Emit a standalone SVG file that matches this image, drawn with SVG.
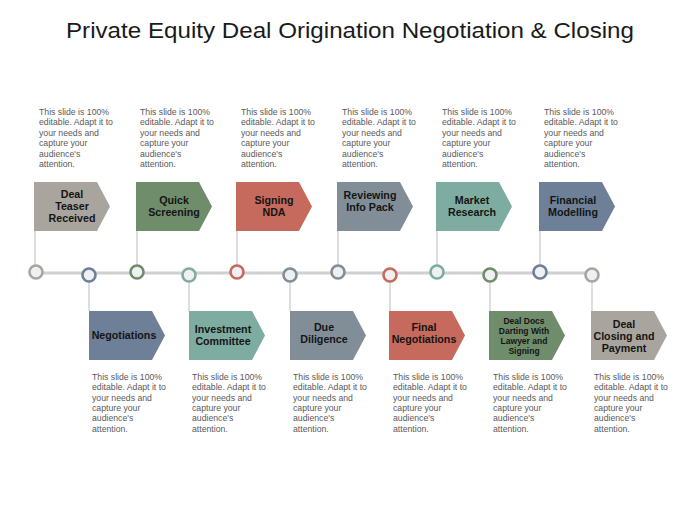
<svg xmlns="http://www.w3.org/2000/svg" width="700" height="525" viewBox="0 0 700 525">
<style>
.title{font-family:"Liberation Sans",Arial,sans-serif;font-size:22px;fill:#1a1a1a}
.lbl{font-family:"Liberation Sans",Arial,sans-serif;font-size:10.7px;font-weight:bold;fill:#141414;text-anchor:middle}
.lbl.sm{font-size:8.5px}
.desc{font-family:"Liberation Sans",Arial,sans-serif;font-size:8.7px;fill:#5a5a5a}
.vl{stroke:#c8c8c8;stroke-width:1.2;fill:none}
.tl{stroke:#d0d0d0;stroke-width:3;fill:none}
.dot{fill:#eef0f2;stroke-width:2.6}
.gray{fill:#a9a59e}.green{fill:#6f8c6b}.red{fill:#c56a5c}.gblue{fill:#818e98}.teal{fill:#7eaca0}.slate{fill:#6e7f98}
.s-gray{stroke:#a9a59e}.s-green{stroke:#6f8c6b}.s-red{stroke:#c56a5c}.s-gblue{stroke:#818e98}.s-teal{stroke:#7eaca0}.s-slate{stroke:#6e7f98}
</style>
<defs>
<path id="arrow" d="M0,0 H63 L76,24.5 L63,49 H0 Z"/>
</defs>
<rect width="700" height="525" fill="#ffffff"/>
<text class="title" x="350" y="38" text-anchor="middle" textLength="568" lengthAdjust="spacingAndGlyphs">Private Equity Deal Origination Negotiation &amp; Closing</text>

<g id="connectors">
<line class="tl" x1="36" y1="273" x2="593" y2="273"/>
<line class="vl" x1="35" y1="230" x2="35" y2="265"/>
<line class="vl" x1="137" y1="230" x2="137" y2="265"/>
<line class="vl" x1="237" y1="230" x2="237" y2="265"/>
<line class="vl" x1="338" y1="230" x2="338" y2="265"/>
<line class="vl" x1="437" y1="230" x2="437" y2="265"/>
<line class="vl" x1="540" y1="230" x2="540" y2="265"/>
<line class="vl" x1="89" y1="282" x2="89" y2="311"/>
<line class="vl" x1="189" y1="282" x2="189" y2="311"/>
<line class="vl" x1="290" y1="282" x2="290" y2="311"/>
<line class="vl" x1="390" y1="282" x2="390" y2="311"/>
<line class="vl" x1="490" y1="282" x2="490" y2="311"/>
<line class="vl" x1="592" y1="282" x2="592" y2="311"/>
<circle class="dot s-gray" cx="36" cy="272" r="6.5"/>
<circle class="dot s-green" cx="137" cy="272" r="6.5"/>
<circle class="dot s-red" cx="237" cy="272" r="6.5"/>
<circle class="dot s-gblue" cx="338" cy="272" r="6.5"/>
<circle class="dot s-teal" cx="437" cy="272" r="6.5"/>
<circle class="dot s-slate" cx="540" cy="272" r="6.5"/>
<circle class="dot s-slate" cx="89" cy="275" r="6.5"/>
<circle class="dot s-teal" cx="189" cy="275" r="6.5"/>
<circle class="dot s-gblue" cx="290" cy="275" r="6.5"/>
<circle class="dot s-red" cx="390" cy="275" r="6.5"/>
<circle class="dot s-green" cx="490" cy="275" r="6.5"/>
<circle class="dot s-gray" cx="592" cy="275" r="6.5"/>
</g>

<g id="n1">
<text class="desc" x="39" y="115"><tspan x="39">This slide is 100%</tspan><tspan x="39" dy="10.4">editable. Adapt it to</tspan><tspan x="39" dy="10.4">your needs and</tspan><tspan x="39" dy="10.4">capture your</tspan><tspan x="39" dy="10.4">audience's</tspan><tspan x="39" dy="10.4">attention.</tspan></text>
<use href="#arrow" class="gray" x="34" y="182"/>
<text class="lbl" x="72" y="197.5"><tspan x="72">Deal</tspan><tspan x="72" dy="12">Teaser</tspan><tspan x="72" dy="12">Received</tspan></text>
</g>
<g id="n2">
<text class="desc" x="140" y="115"><tspan x="140">This slide is 100%</tspan><tspan x="140" dy="10.4">editable. Adapt it to</tspan><tspan x="140" dy="10.4">your needs and</tspan><tspan x="140" dy="10.4">capture your</tspan><tspan x="140" dy="10.4">audience's</tspan><tspan x="140" dy="10.4">attention.</tspan></text>
<use href="#arrow" class="green" x="136" y="182"/>
<text class="lbl" x="174" y="203.5"><tspan x="174">Quick</tspan><tspan x="174" dy="12.5">Screening</tspan></text>
</g>
<g id="n3">
<text class="desc" x="241" y="115"><tspan x="241">This slide is 100%</tspan><tspan x="241" dy="10.4">editable. Adapt it to</tspan><tspan x="241" dy="10.4">your needs and</tspan><tspan x="241" dy="10.4">capture your</tspan><tspan x="241" dy="10.4">audience's</tspan><tspan x="241" dy="10.4">attention.</tspan></text>
<use href="#arrow" class="red" x="236" y="182"/>
<text class="lbl" x="274" y="203.5"><tspan x="274">Signing</tspan><tspan x="274" dy="12.5">NDA</tspan></text>
</g>
<g id="n4">
<text class="desc" x="342" y="115"><tspan x="342">This slide is 100%</tspan><tspan x="342" dy="10.4">editable. Adapt it to</tspan><tspan x="342" dy="10.4">your needs and</tspan><tspan x="342" dy="10.4">capture your</tspan><tspan x="342" dy="10.4">audience's</tspan><tspan x="342" dy="10.4">attention.</tspan></text>
<use href="#arrow" class="gblue" x="337" y="182"/>
<text class="lbl" x="370" y="198.5"><tspan x="370">Reviewing</tspan><tspan x="370" dy="12">Info Pack</tspan></text>
</g>
<g id="n5">
<text class="desc" x="442" y="115"><tspan x="442">This slide is 100%</tspan><tspan x="442" dy="10.4">editable. Adapt it to</tspan><tspan x="442" dy="10.4">your needs and</tspan><tspan x="442" dy="10.4">capture your</tspan><tspan x="442" dy="10.4">audience's</tspan><tspan x="442" dy="10.4">attention.</tspan></text>
<use href="#arrow" class="teal" x="436" y="182"/>
<text class="lbl" x="472" y="203.5"><tspan x="472">Market</tspan><tspan x="472" dy="12.5">Research</tspan></text>
</g>
<g id="n6">
<text class="desc" x="544" y="115"><tspan x="544">This slide is 100%</tspan><tspan x="544" dy="10.4">editable. Adapt it to</tspan><tspan x="544" dy="10.4">your needs and</tspan><tspan x="544" dy="10.4">capture your</tspan><tspan x="544" dy="10.4">audience's</tspan><tspan x="544" dy="10.4">attention.</tspan></text>
<use href="#arrow" class="slate" x="539" y="182"/>
<text class="lbl" x="573" y="203.5"><tspan x="573">Financial</tspan><tspan x="573" dy="12.5">Modelling</tspan></text>
</g>

<g id="n7">
<use href="#arrow" class="slate" x="89" y="311"/>
<text class="lbl" x="124" y="339">Negotiations</text>
<text class="desc" x="92" y="380"><tspan x="92">This slide is 100%</tspan><tspan x="92" dy="10.3">editable. Adapt it to</tspan><tspan x="92" dy="10.3">your needs and</tspan><tspan x="92" dy="10.3">capture your</tspan><tspan x="92" dy="10.3">audience's</tspan><tspan x="92" dy="10.3">attention.</tspan></text>
</g>
<g id="n8">
<use href="#arrow" class="teal" x="189" y="311"/>
<text class="lbl" x="223" y="332.5"><tspan x="223">Investment</tspan><tspan x="223" dy="12.5">Committee</tspan></text>
<text class="desc" x="192" y="380"><tspan x="192">This slide is 100%</tspan><tspan x="192" dy="10.3">editable. Adapt it to</tspan><tspan x="192" dy="10.3">your needs and</tspan><tspan x="192" dy="10.3">capture your</tspan><tspan x="192" dy="10.3">audience's</tspan><tspan x="192" dy="10.3">attention.</tspan></text>
</g>
<g id="n9">
<use href="#arrow" class="gblue" x="290" y="311"/>
<text class="lbl" x="324" y="330.5"><tspan x="324">Due</tspan><tspan x="324" dy="12.5">Diligence</tspan></text>
<text class="desc" x="293" y="380"><tspan x="293">This slide is 100%</tspan><tspan x="293" dy="10.3">editable. Adapt it to</tspan><tspan x="293" dy="10.3">your needs and</tspan><tspan x="293" dy="10.3">capture your</tspan><tspan x="293" dy="10.3">audience's</tspan><tspan x="293" dy="10.3">attention.</tspan></text>
</g>
<g id="n10">
<use href="#arrow" class="red" x="389" y="311"/>
<text class="lbl" x="424" y="330.5"><tspan x="424">Final</tspan><tspan x="424" dy="12.5">Negotiations</tspan></text>
<text class="desc" x="393" y="380"><tspan x="393">This slide is 100%</tspan><tspan x="393" dy="10.3">editable. Adapt it to</tspan><tspan x="393" dy="10.3">your needs and</tspan><tspan x="393" dy="10.3">capture your</tspan><tspan x="393" dy="10.3">audience's</tspan><tspan x="393" dy="10.3">attention.</tspan></text>
</g>
<g id="n11">
<use href="#arrow" class="green" x="489" y="311"/>
<text class="lbl sm" x="524" y="324"><tspan x="524">Deal Docs</tspan><tspan x="524" dy="10">Darting With</tspan><tspan x="524" dy="10">Lawyer and</tspan><tspan x="524" dy="10">Signing</tspan></text>
<text class="desc" x="493" y="380"><tspan x="493">This slide is 100%</tspan><tspan x="493" dy="10.3">editable. Adapt it to</tspan><tspan x="493" dy="10.3">your needs and</tspan><tspan x="493" dy="10.3">capture your</tspan><tspan x="493" dy="10.3">audience's</tspan><tspan x="493" dy="10.3">attention.</tspan></text>
</g>
<g id="n12">
<use href="#arrow" class="gray" x="591" y="311"/>
<text class="lbl" x="624" y="327.5"><tspan x="624">Deal</tspan><tspan x="624" dy="12">Closing and</tspan><tspan x="624" dy="12">Payment</tspan></text>
<text class="desc" x="594" y="380"><tspan x="594">This slide is 100%</tspan><tspan x="594" dy="10.3">editable. Adapt it to</tspan><tspan x="594" dy="10.3">your needs and</tspan><tspan x="594" dy="10.3">capture your</tspan><tspan x="594" dy="10.3">audience's</tspan><tspan x="594" dy="10.3">attention.</tspan></text>
</g>
</svg>
